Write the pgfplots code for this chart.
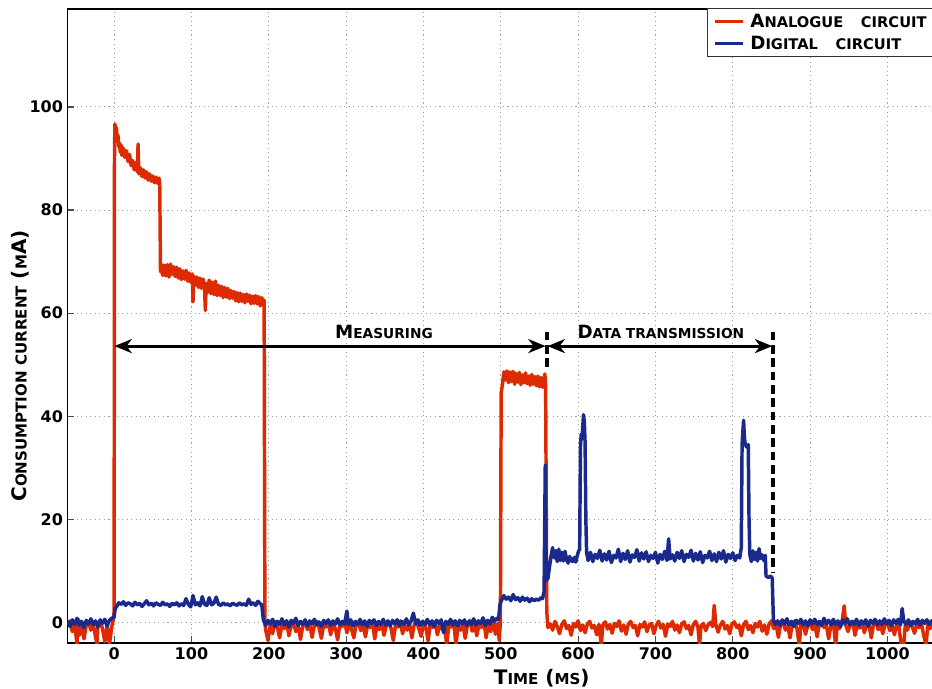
\documentclass[border=0pt]{standalone}
\usepackage{fontspec}
\setmainfont{DejaVu Sans}
\usepackage{pgfplots}
\pgfplotsset{compat=1.18}
\usetikzlibrary{arrows.meta,calc}
\definecolor{ared}{RGB}{222,42,0}
\definecolor{dblue}{RGB}{26,42,140}
\newcommand{\lsc}{\fontsize{10.3}{12}\selectfont}
\newcommand{\gsc}{\fontsize{11}{12}\selectfont}
\newcommand{\xsc}{\fontsize{11.3}{13}\selectfont}
\begin{document}
\begin{tikzpicture}
\begin{axis}[
  scale only axis,
  width=711.1pt, height=475.5pt,
  xmin=-60, xmax=1166, ymin=-4, ymax=119,
  xtick={0,100,...,1000}, ytick={0,20,...,100},
  tick pos=left,
  tick align=inside,
  major tick length=5pt,
  tick style={line width=0.9pt, black!70},
  axis line style={line width=1.1pt},
  grid=major,
  grid style={line width=0.7pt, gray!75, dash pattern=on 0.8pt off 2.6pt},
  /pgf/number format/assume math mode=true,
  /pgf/number format/1000 sep={},
  tick label style={font=\bfseries\fontsize{12}{14}\selectfont},
  xlabel={T{\xsc IME} ({\xsc MS})},
  ylabel={C{\xsc ONSUMPTION CURRENT} ({\xsc M}A)},
  label style={font=\bfseries\fontsize{15}{17}\selectfont},
  xlabel style={at={(axis description cs:0.5,0)}, anchor=center, yshift=-26.5pt},
  ylabel style={at={(axis description cs:0,0.437)}, anchor=center, yshift=35.5pt},
  legend style={at={(axis description cs:0.6743,1.0016)}, anchor=north west,
    font=\bfseries\fontsize{13.7}{15}\selectfont, draw=black!80, line width=0.8pt,
    inner xsep=4pt, inner ysep=2pt, row sep=1pt},
  legend cell align=left,
  legend image code/.code={\draw[#1] (2pt,0pt) -- (23pt,0pt);},
  every axis plot/.append style={line width=2.6pt, line join=round},
]
\coordinate (O) at (rel axis cs:0,0);
\addplot[ared] coordinates {
(-60,-0.5) (-57,0.3) (-54,-1.8) (-51,-0.2) (-48,-4.2) (-46,0.6) (-45,-2.5) (-42,-0.4) (-39,-3.2) (-36,-0.6)
(-33,0.1) (-30,-1.5) (-27,-0.3) (-24,-2.8) (-22,-4.3) (-21,-0.5) (-18,0.2) (-15,-1.2) (-12,-3.8) (-9,-0.6)
(-6,-4.3) (-3,-0.8) (-1,0.5) (0,2) (0.5,90) (1,96.7)
(2,95.5) (3,96.0) (4,93.8) (5,94.5) (6,92.3) (7,93.0) (8,91.2) (9,92.6) (10,90.6) (12,92.0) (14,90.2)
(16,91.5) (18,89.4) (20,90.8) (22,88.6) (24,89.6) (26,87.8) (28,89.2) (30,87.4) (31,92.8) (32,87.0)
(34,88.2) (36,86.5) (38,87.8) (40,86.2) (42,87.4) (44,85.8) (46,87.0) (48,85.6) (50,86.6) (52,85.3)
(54,86.4) (56,85.2) (58,86.2) (59,85.3) (60,68.0)
(61,69.5) (63,67.3) (65,69.3) (67,67.2) (69,69.4) (71,67.0) (73,69.5) (75,67.5) (77,69.0) (79,67.1)
(81,68.9) (83,66.8) (85,68.6) (87,66.5) (89,68.2) (91,66.6) (93,68.3) (95,66.2) (97,67.8) (99,66.0)
(101,67.6) (102,62.2) (103,67.2) (105,65.4) (107,67.0) (109,65.0) (111,66.8) (113,64.8) (115,66.6) (117,64.6)
(118,60.5) (119,65.8) (121,64.0) (123,66.4) (125,63.8) (127,66.0) (129,63.6) (131,66.2) (133,63.4) (135,65.4)
(137,63.4) (139,65.2) (141,63.0) (143,65.0) (145,63.1) (147,64.8) (149,62.8) (151,64.4) (153,62.9) (155,64.2)
(157,62.4) (159,64.0) (161,62.2) (163,63.9) (165,62.3) (167,63.6) (169,62.0) (171,63.7) (173,62.3) (175,63.5)
(177,61.8) (179,63.3) (181,61.9) (183,63.4) (185,61.8) (187,63.2) (189,61.4) (191,63.0) (193,61.6) (194,62.5)
(195,0)
(196,-1.5) (199,-3.5) (202,-0.4) (205,-2.2) (208,0.2) (211,-0.8) (214,-3.0) (217,-0.5) (220,-1.2) (223,0.3)
(226,-2.6) (229,-0.6) (232,-0.2) (235,-1.8) (238,-0.5) (241,-3.3) (244,-0.7) (247,0.1) (250,-1.4) (253,-0.4)
(256,-2.9) (259,-0.6) (262,0.2) (265,-1.0) (268,-3.1) (271,-0.5) (274,-0.9) (277,0.1) (280,-2.4) (283,-0.6)
(286,-1.1) (289,-3.4) (292,-0.3) (295,-0.8) (298,0.3) (301,-2.0) (304,-0.5) (307,-1.3) (310,-3.0) (313,-0.4)
(316,0.0) (319,-1.6) (322,-0.6) (325,-2.8) (328,-0.3) (331,-1.0) (334,0.2) (337,-3.2) (340,-0.5) (343,-1.4)
(346,-0.2) (349,-2.5) (352,-0.7) (355,0.1) (358,-1.1) (361,-3.5) (364,-0.4) (367,-0.9) (370,0.3) (373,-2.2)
(376,-0.6) (379,-1.5) (382,-0.2) (385,-3.0) (388,-0.5) (391,0.2) (394,-1.2) (397,-2.7) (400,-0.4) (403,-0.8)
(406,-3.6) (409,-0.3) (412,-1.0) (415,0.1) (418,-2.4) (421,-0.6) (424,-1.3) (427,-0.2) (430,-4.3) (433,-0.5)
(436,-0.9) (439,0.2) (442,-4.3) (445,-0.6) (448,-1.5) (451,-0.3) (454,-3.1) (457,-0.4) (460,0.4) (463,-1.7)
(466,-0.5) (469,-2.6) (472,-0.2) (475,-1.0) (478,0.5) (481,-3.0) (484,-0.4) (487,-1.8) (490,0.8) (493,-2.3)
(496,-0.2) (498,-3.5) (499.5,0)
(500.5,44.5) (502,46.0) (504,48.6) (506,47.0) (508,48.8) (510,46.5) (512,48.6) (514,46.7) (516,48.7) (518,46.2)
(520,48.3) (522,46.6) (524,48.5) (526,46.1) (528,48.0) (530,46.5) (532,48.4) (534,46.3) (536,47.8) (538,46.0)
(540,48.1) (542,46.2) (544,47.7) (546,45.9) (548,47.8) (550,45.7) (552,47.5) (554,45.6) (556,47.2) (557,48.2)
(558,46.0) (559.5,2) (561,-1.0)
(564,-0.3) (567,-1.5) (570,0.2) (573,-0.8) (576,-2.2) (579,-0.4) (582,0.3) (585,-1.2) (588,-0.6) (591,-2.5)
(594,-0.2) (597,-0.9) (600,0.3) (603,-1.6) (606,-0.5) (609,-2.0) (612,-0.3) (615,0.2) (618,-1.1) (621,-0.6)
(624,-2.4) (627,-0.4) (630,-4.5) (632,-0.5) (635,0.1) (638,-1.3) (641,-0.4) (644,-2.1) (647,-0.2) (650,-0.8)
(653,0.3) (656,-1.7) (659,-0.5) (662,-2.3) (665,-0.3) (668,0.2) (671,-1.0) (674,-0.6) (677,-2.6) (680,-0.4)
(683,-0.9) (686,0.1) (689,-1.8) (692,-0.5) (695,-0.2) (698,-2.2) (701,-0.6) (704,0.2) (707,-1.1) (710,-0.4)
(713,-2.7) (716,-0.3) (719,-0.8) (722,0.2) (725,-1.5) (728,-0.5) (731,-2.0) (734,-0.3) (737,0.1) (740,-1.2)
(743,-0.6) (746,-2.4) (749,-0.4) (752,0.2) (755,-1.0) (757,-4.5) (759,-0.6) (762,-0.2) (765,-1.6) (768,-0.5)
(771,0.0) (774,-0.8) (776,3.3) (778,-0.4) (781,-1.9) (784,-0.5) (787,0.2) (790,-1.3) (793,-0.6) (796,-2.2)
(799,-0.3) (802,0.1) (805,-1.0) (808,-0.5) (811,-2.6) (814,-0.4) (817,0.2) (820,-1.4) (823,-0.6) (826,-2.0)
(829,-0.2) (832,-0.9) (835,0.2) (838,-1.7) (841,-0.5) (844,-2.3) (847,-0.3) (850,0.3) (853,-1.2) (856,-0.5)
(859,-2.9) (862,-0.3) (865,0.2) (868,-1.5) (871,-0.6) (874,-3.0) (877,-0.4) (880,0.3) (883,-1.2) (886,-4.5)
(888,-0.5) (891,-0.1) (894,-2.3) (897,-0.6) (900,0.2) (903,-1.4) (906,-0.5) (909,-2.8) (912,-0.3) (915,0.1)
(918,-1.0) (921,-0.6) (924,-3.2) (927,-0.4) (930,0.2) (933,-4.5) (935,-0.6) (938,-1.2) (941,-0.3) (944,3.2)
(946,-0.5) (949,-1.8) (952,-0.4) (955,0.2) (958,-2.5) (961,-0.5) (964,-1.1) (967,0.1) (970,-2.0) (973,-0.6)
(976,-0.2) (979,-3.0) (982,-0.4) (985,0.3) (988,-1.4) (991,-0.6) (994,-2.2) (997,-0.3) (1000,0.1) (1003,-1.6)
(1006,-0.5) (1009,-2.4) (1012,-0.4) (1015,-1.0) (1018,-4.5) (1021,-4.5) (1023,-0.6) (1026,-1.5) (1029,0.2) (1032,-0.8)
(1035,-2.1) (1038,-0.4) (1041,-1.0) (1044,-0.3) (1047,-2.6) (1050,-4.5) (1052,-0.5) (1055,-1.2) (1058,-0.4) (1061,-0.8)
};
\addlegendentry{\hspace{2.5pt}A{\gsc NALOGUE\hspace{1.2em}CIRCUIT}\hspace{14pt}}
\addplot[dblue] coordinates {
(-60,0.3) (-57,-0.8) (-54,0.5) (-51,-0.4) (-48,0.8) (-45,-0.6) (-42,0.2) (-39,-1.0) (-36,0.4) (-33,-0.3)
(-30,0.7) (-27,-0.5) (-24,0.3) (-21,-0.9) (-18,0.5) (-15,-0.2) (-12,0.6) (-9,-0.7) (-6,0.4) (-3,0.8)
(0,1.0) (1.5,2.8) (3,3.0) (6,3.8) (9,3.5) (12,4.0) (15,3.3) (18,3.8) (21,3.6) (24,3.2)
(27,3.9) (30,3.4) (33,3.7) (36,3.1) (39,3.6) (42,4.2) (45,3.4) (48,3.7) (51,3.2) (54,3.8)
(57,3.5) (60,3.3) (63,3.9) (66,3.4) (69,3.6) (72,3.1) (75,3.7) (78,3.4) (81,3.8) (84,3.2)
(87,3.6) (90,3.3) (93,4.6) (96,3.5) (99,3.0) (102,5.2) (105,3.4) (108,3.8) (111,3.2) (114,5.0)
(117,3.5) (120,3.3) (123,4.8) (126,3.4) (129,3.7) (132,4.9) (135,3.5) (138,3.3) (141,3.8) (144,3.4)
(147,3.6) (150,3.2) (153,3.7) (156,3.5) (159,3.3) (162,3.8) (165,3.4) (168,3.6) (171,3.3) (174,4.5)
(177,3.5) (180,3.8) (183,3.3) (186,4.1) (189,3.6) (191,3.4) (193,0.5)
(196,-0.6) (199,0.4) (202,-0.3) (205,0.6) (208,-0.8) (211,0.2) (214,-0.4) (217,0.7) (220,-0.5) (223,0.3)
(226,-0.9) (229,0.4) (232,-0.2) (235,0.8) (238,-0.6) (241,0.2) (244,-0.4) (247,0.5) (250,-0.7) (253,0.3)
(256,-0.3) (259,0.6) (262,-0.5) (265,0.1) (268,-0.8) (271,0.4) (274,-0.2) (277,0.5) (280,-0.6) (283,0.3)
(286,-0.4) (289,0.7) (292,-0.5) (295,0.2) (298,-0.3) (301,2.2) (303,-0.4) (306,0.5) (309,-0.7) (312,0.2)
(315,-0.4) (318,0.6) (321,-0.5) (324,0.3) (327,-0.8) (330,0.4) (333,-0.2) (336,0.5) (339,-0.6) (342,0.2)
(345,-0.4) (348,0.6) (351,-0.5) (354,0.3) (357,-0.7) (360,0.4) (363,-0.3) (366,0.5) (369,-0.6) (372,0.2)
(375,-0.4) (378,0.7) (381,-0.5) (384,0.3) (387,1.8) (390,-0.3) (393,0.5) (396,-0.6) (399,0.2) (402,-0.4)
(405,0.6) (408,-0.5) (411,0.3) (414,-0.8) (417,0.4) (420,-0.2) (423,0.5) (426,-2.0) (429,0.2) (432,-0.4)
(435,0.6) (438,-0.5) (441,0.3) (444,-0.7) (447,0.4) (450,-0.3) (453,0.5) (456,-0.6) (459,0.2) (462,-0.4)
(465,0.7) (468,-0.5) (471,0.3) (474,-0.2) (477,0.9) (480,-0.6) (483,0.4) (486,-0.3) (489,1.0) (492,0.2)
(495,0.8) (497,0.5) (499,3.5) (501,4.3) (504,5.2) (507,4.5) (510,4.9) (513,4.2) (516,5.4) (519,4.4)
(522,4.8) (525,4.1) (528,4.9) (531,4.3) (534,4.7) (537,4.0) (540,4.6) (543,4.2) (546,4.5) (549,4.3)
(552,4.8) (554,4.6) (556,6.0) (557.5,30.5) (558.5,14) (559.5,8.2) (561,8.5) (563,10.8) (565,12.8) (567,14.5)
(569,12.5) (571,13.9) (573,11.8) (575,14.2) (577,12.0) (579,13.6) (581,11.9) (583,13.8) (585,12.3) (587,11.5)
(589,12.8) (591,12.0) (593,11.8) (595,12.6) (597,11.7) (599,13.0) (601,14.0) (602,14) (603,34) (604,36.5)
(605,35.5) (606,38) (607,40.3) (608,39.0) (609,35) (610,20) (611,13.5)
(613,12.0) (616,13.6) (619,11.8) (622,13.2) (625,12.4) (628,14.0) (631,11.9) (634,13.3) (637,12.1) (640,13.8)
(643,11.6) (646,13.0) (649,12.5) (652,14.2) (655,11.8) (658,13.4) (661,12.2) (664,13.9) (667,11.7) (670,13.1)
(673,12.6) (676,14.1) (679,11.9) (682,13.5) (685,12.3) (688,13.7) (691,11.8) (694,13.0) (697,12.4) (700,13.6)
(703,11.5) (706,13.2) (709,12.2) (712,13.8) (715,12.0) (717,16.2) (719,12.3) (722,13.1) (725,11.9) (728,13.6)
(731,12.4) (734,13.9) (737,11.8) (740,13.2) (743,12.6) (746,14.0) (749,11.9) (752,13.4) (755,12.1) (758,13.7)
(761,11.6) (764,13.0) (767,12.5) (770,13.8) (773,12.0) (776,13.3) (779,11.8) (782,13.6) (785,12.3) (788,13.9)
(791,11.7) (794,13.2) (797,12.4) (800,13.5) (803,12.0) (806,13.0) (809,12.5) (811,14.5) (812,34.5) (813,37)
(814,39.2) (815,36) (816,34.6) (818,34.0) (820,34.5) (821,20) (822,13.2) (824,11.8) (826,13.9) (828,12.2)
(830,13.6) (832,11.9) (834,14.3) (836,12.4) (838,13.1) (840,12.0) (842,13.0) (843,9.0) (846,8.7) (849,9.0)
(851,8.6) (852.5,0.5)
(855,-0.4) (858,0.3) (861,-0.6) (864,0.5) (867,-0.3) (870,0.7) (873,-0.5) (876,0.2) (879,-0.8) (882,0.4)
(885,-0.2) (888,0.6) (891,-0.5) (894,0.3) (897,-0.7) (900,0.5) (903,-0.3) (906,0.6) (909,-0.4) (912,0.2)
(915,-0.6) (918,0.8) (921,-0.3) (924,0.4) (927,-0.5) (930,0.6) (933,-0.4) (936,0.3) (939,-0.8) (942,0.5)
(945,-0.2) (948,0.7) (951,-0.5) (954,0.2) (957,-0.4) (960,0.6) (963,-0.6) (966,0.3) (969,-0.3) (972,0.5)
(975,-0.7) (978,0.4) (981,-0.2) (984,0.6) (987,-0.5) (990,0.3) (993,-0.4) (996,0.7) (999,-0.3) (1002,0.4)
(1005,-0.6) (1008,0.5) (1011,-0.2) (1014,0.6) (1017,-0.5) (1019,2.7) (1021,0.3) (1024,-0.4) (1027,0.5) (1030,-0.6)
(1033,0.2) (1036,-0.3) (1039,0.6) (1042,-0.5) (1045,0.4) (1048,-0.2) (1051,0.5) (1054,-0.4) (1057,0.3) (1060,-0.5)
};
\addlegendentry{\hspace{2.5pt}D{\gsc IGITAL\hspace{1.2em}CIRCUIT}}
\draw[line width=2.3pt, {Stealth[length=13pt,width=10.5pt,inset=4pt]}-{Stealth[length=13pt,width=10.5pt,inset=4pt]}]
  (axis cs:0.5,53.6) -- (axis cs:558,53.6);
\draw[line width=2.3pt, {Stealth[length=13pt,width=10.5pt,inset=4pt]}-{Stealth[length=13pt,width=10.5pt,inset=4pt]}]
  (axis cs:560.5,53.6) -- (axis cs:851,53.6);
\draw[line width=3pt, dash pattern=on 6.5pt off 3.5pt] (axis cs:559.3,56.4) -- (axis cs:559.3,49.3);
\draw[line width=3pt, dash pattern=on 6.5pt off 3.5pt] (axis cs:852.5,56.4) -- (axis cs:852.5,9.5);
\node[anchor=base, font=\bfseries\fontsize{13.7}{15}\selectfont, inner sep=0pt] at (axis cs:349,55.1) {M{\lsc EASURING}};
\node[anchor=base, font=\bfseries\fontsize{13.7}{15}\selectfont, inner sep=0pt] at (axis cs:707,55.1) {D{\lsc ATA TRANSMISSION}};
\end{axis}
\pgfresetboundingbox
\useasboundingbox ($(O)+(-50.775pt,-34.5pt)$) rectangle ++(699pt,516.75pt);
\end{tikzpicture}
\end{document}
